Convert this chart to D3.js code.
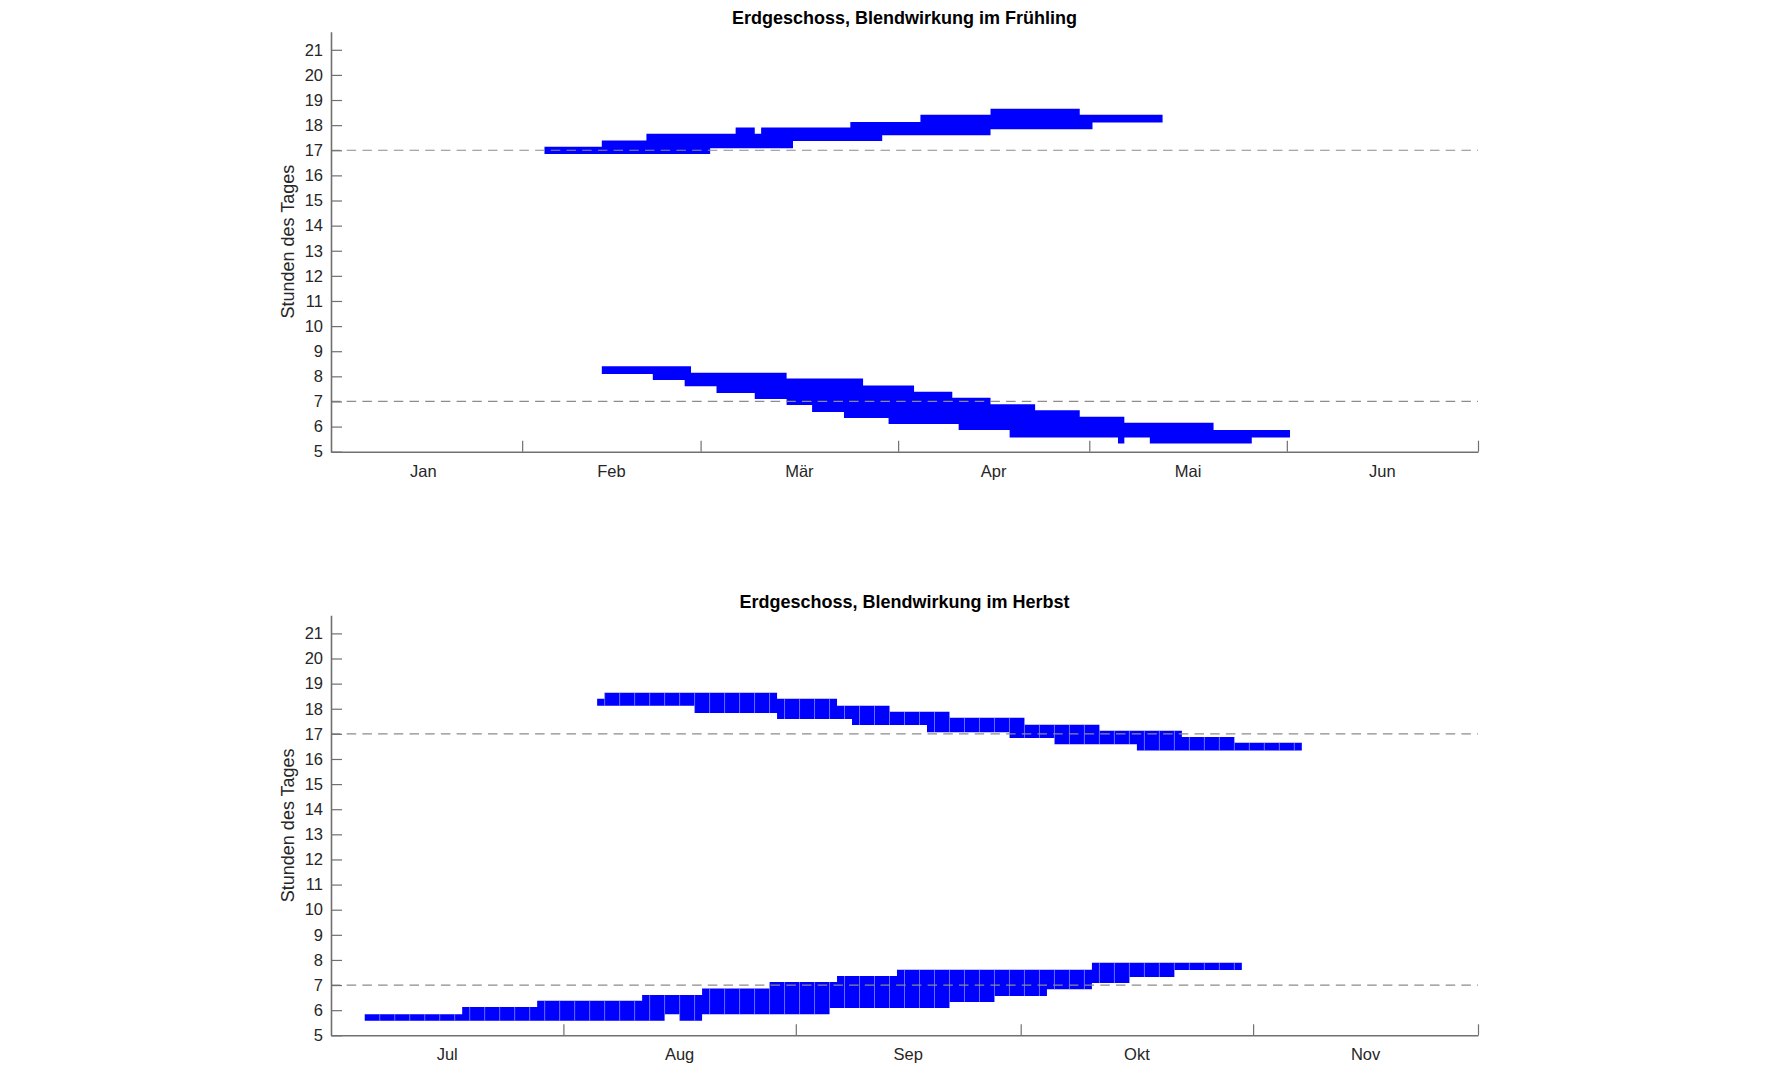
<!DOCTYPE html>
<html><head><meta charset="utf-8">
<script src="https://cdn.jsdelivr.net/npm/d3@7"></script>
<style>
html,body{margin:0;padding:0;background:#fff;}
svg{display:block;font-family:"Liberation Sans",Arial,sans-serif;}
</style></head><body>
<svg id="chart" width="1779" height="1068"></svg>
<script>
// ---------- DATA (day of year, hours) ----------
const hourTicks = [5,6,7,8,9,10,11,12,13,14,15,16,17,18,19,20,21];
const refHours = [7, 17];

const springTitle = "Erdgeschoss, Blendwirkung im Frühling";
const springMonthStarts = [1, 32, 60, 91, 121, 152, 182];
const springMonthLabels = ["Jan","Feb","Mär","Apr","Mai","Jun"];
// [startDay, endDay, lowHour, highHour]
const springEvening = [
  [35.5,44.5,16.85,17.14],[44.5,51.5,16.85,17.39],[51.5,61.5,16.85,17.66],
  [61.5,65.5,17.08,17.66],[65.5,68.5,17.08,17.91],[68.5,69.5,17.08,17.66],
  [69.5,74.5,17.08,17.91],[74.5,83.5,17.37,17.91],[83.5,88.5,17.37,18.13],
  [88.5,94.5,17.60,18.13],[94.5,105.5,17.60,18.41],[105.5,119.5,17.84,18.65],
  [119.5,121.5,17.84,18.41],[121.5,132.5,18.11,18.41]
];
const springMorning = [
  [44.5,52.5,8.09,8.40],[52.5,57.5,7.85,8.40],[57.5,58.5,7.61,8.40],
  [58.5,62.5,7.61,8.14],[62.5,68.5,7.34,8.14],[68.5,73.5,7.10,8.14],
  [73.5,77.5,6.86,7.91],[77.5,82.5,6.58,7.91],[82.5,85.5,6.34,7.91],
  [85.5,89.5,6.34,7.64],[89.5,93.5,6.10,7.64],[93.5,99.5,6.10,7.39],
  [99.5,100.5,6.10,7.15],[100.5,105.5,5.86,7.15],[105.5,108.5,5.86,6.89],
  [108.5,112.5,5.57,6.89],[112.5,119.5,5.57,6.65],[119.5,125.5,5.57,6.39],
  [125.5,126.5,5.33,6.39],[126.5,130.5,5.57,6.15],[130.5,140.5,5.33,6.15],
  [140.5,146.5,5.33,5.86],[146.5,152.5,5.57,5.86]
];

const autumnTitle = "Erdgeschoss, Blendwirkung im Herbst";
const autumnMonthStarts = [182, 213, 244, 274, 305, 335];
const autumnMonthLabels = ["Jul","Aug","Sep","Okt","Nov"];
const autumnEvening = [
  [217.5,218.5,18.12,18.40],[218.5,230.5,18.12,18.64],[230.5,241.5,17.83,18.64],
  [241.5,249.5,17.59,18.40],[249.5,251.5,17.59,18.12],[251.5,256.5,17.35,18.12],
  [256.5,261.5,17.35,17.88],[261.5,264.5,17.06,17.88],[264.5,272.5,17.06,17.64],
  [272.5,274.5,16.84,17.64],[274.5,278.5,16.84,17.36],[278.5,284.5,16.59,17.36],
  [284.5,289.5,16.59,17.12],[289.5,295.5,16.34,17.12],[295.5,302.5,16.34,16.88],
  [302.5,311.5,16.34,16.65]
];
const autumnMorning = [
  [186.5,199.5,5.58,5.84],[199.5,209.5,5.58,6.13],[209.5,223.5,5.58,6.38],
  [223.5,226.5,5.58,6.60],[226.5,228.5,5.84,6.60],[228.5,231.5,5.58,6.60],
  [231.5,240.5,5.84,6.86],[240.5,248.5,5.84,7.12],[248.5,249.5,6.09,7.12],
  [249.5,257.5,6.09,7.36],[257.5,264.5,6.09,7.61],[264.5,270.5,6.33,7.61],
  [270.5,277.5,6.56,7.61],[277.5,283.5,6.83,7.61],[283.5,288.5,7.08,7.89],
  [288.5,294.5,7.32,7.89],[294.5,303.5,7.60,7.89]
];

// ---------- DRAWING ----------
const svg = d3.select("#chart");
svg.append("rect").attr("width",1779).attr("height",1068).attr("fill","#fff");

const LEFT = 331, RIGHT = 1478, PH = 420;
const AXIS_COLOR = "#707070", TEXT_COLOR = "#262626";

function drawPanel(cfg) {
  const g = svg.append("g");
  const x = d3.scaleLinear().domain(cfg.xDomain).range([LEFT, RIGHT]);
  const y = d3.scaleLinear().domain([5, 21.72]).range([cfg.bottom, cfg.bottom - PH]);

  const area = d3.area()
    .curve(d3.curveStepAfter)
    .x(d => x(d[0])).y0(d => y(d[2])).y1(d => y(d[3]));

  cfg.bands.forEach(band => {
    const last = band[band.length - 1];
    const pts = band.concat([[last[1], last[1], last[2], last[3]]]);
    g.append("path").attr("d", area(pts)).attr("fill", "#0000ff");
  });

  // cell separators (bottom panel)
  if (cfg.cellStep) {
    const anchor = d3.min(cfg.bands, b => b[0][0]);
    const seps = [];
    cfg.bands.forEach(band => {
      const bStart = band[0][0];
      band.forEach(d => {
        let k = Math.ceil((d[0] - anchor) / cfg.cellStep - 1e-6);
        for (let gd = anchor + k * cfg.cellStep; gd < d[1] - 1e-6; gd += cfg.cellStep) {
          if (gd > bStart + 1e-6) seps.push([gd, d[2], d[3]]);
        }
      });
    });
    g.append("g").selectAll("line").data(seps).join("line")
      .attr("x1", d => x(d[0])).attr("x2", d => x(d[0]))
      .attr("y1", d => y(d[1])).attr("y2", d => y(d[2]))
      .attr("stroke", "#9a9aff").attr("stroke-width", 0.7);
  }

  // reference dashed lines
  g.append("g").selectAll("line").data(refHours).join("line")
    .attr("x1", LEFT).attr("x2", RIGHT)
    .attr("y1", d => y(d)).attr("y2", d => y(d))
    .attr("stroke", "#8c8c8c").attr("stroke-width", 1.2)
    .attr("stroke-dasharray", "9.5,6.2");

  // y axis
  const ya = g.append("g").attr("transform", `translate(${LEFT},0)`)
    .call(d3.axisLeft(y).tickValues(hourTicks).tickSize(-11).tickSizeOuter(0).tickPadding(8));
  ya.select(".domain").attr("stroke", AXIS_COLOR).attr("stroke-width", 1.6);
  ya.selectAll(".tick line").attr("stroke", AXIS_COLOR).attr("stroke-width", 1.2);
  ya.selectAll(".tick text").attr("fill", TEXT_COLOR)
    .style("font-size", "16.5px").style("font-family", "'Liberation Sans', Arial, sans-serif");

  // x axis
  const xa = g.append("g").attr("transform", `translate(0,${cfg.bottom})`)
    .call(d3.axisBottom(x).tickValues(cfg.monthStarts.slice(1)).tickSize(-11).tickSizeOuter(0).tickFormat(() => ""));
  xa.select(".domain").attr("stroke", AXIS_COLOR).attr("stroke-width", 1.6);
  xa.selectAll(".tick line").attr("stroke", AXIS_COLOR).attr("stroke-width", 1.2);

  // month labels centered in month
  const mids = cfg.monthLabels.map((m, i) => ({ m, c: (cfg.monthStarts[i] + cfg.monthStarts[i + 1]) / 2 }));
  g.append("g").selectAll("text").data(mids).join("text")
    .attr("x", d => x(d.c)).attr("y", cfg.bottom + 25)
    .attr("text-anchor", "middle").attr("fill", TEXT_COLOR)
    .style("font-size", "16.5px").text(d => d.m);

  // y label
  g.append("text")
    .attr("transform", `translate(294,${cfg.bottom - PH / 2}) rotate(-90)`)
    .attr("text-anchor", "middle").attr("fill", TEXT_COLOR)
    .style("font-size", "18px").text("Stunden des Tages");

  // title
  g.append("text")
    .attr("x", (LEFT + RIGHT) / 2).attr("y", cfg.titleY)
    .attr("text-anchor", "middle").attr("fill", "#000")
    .style("font-size", "18px").style("font-weight", "bold").text(cfg.title);
}

drawPanel({
  title: springTitle, titleY: 24, bottom: 451.7,
  xDomain: [2, 182], monthStarts: springMonthStarts, monthLabels: springMonthLabels,
  bands: [springEvening, springMorning]
});
drawPanel({
  title: autumnTitle, titleY: 608.3, bottom: 1035.3,
  xDomain: [182, 335], monthStarts: autumnMonthStarts, monthLabels: autumnMonthLabels,
  bands: [autumnEvening, autumnMorning], cellStep: 2
});
</script>
</body></html>
